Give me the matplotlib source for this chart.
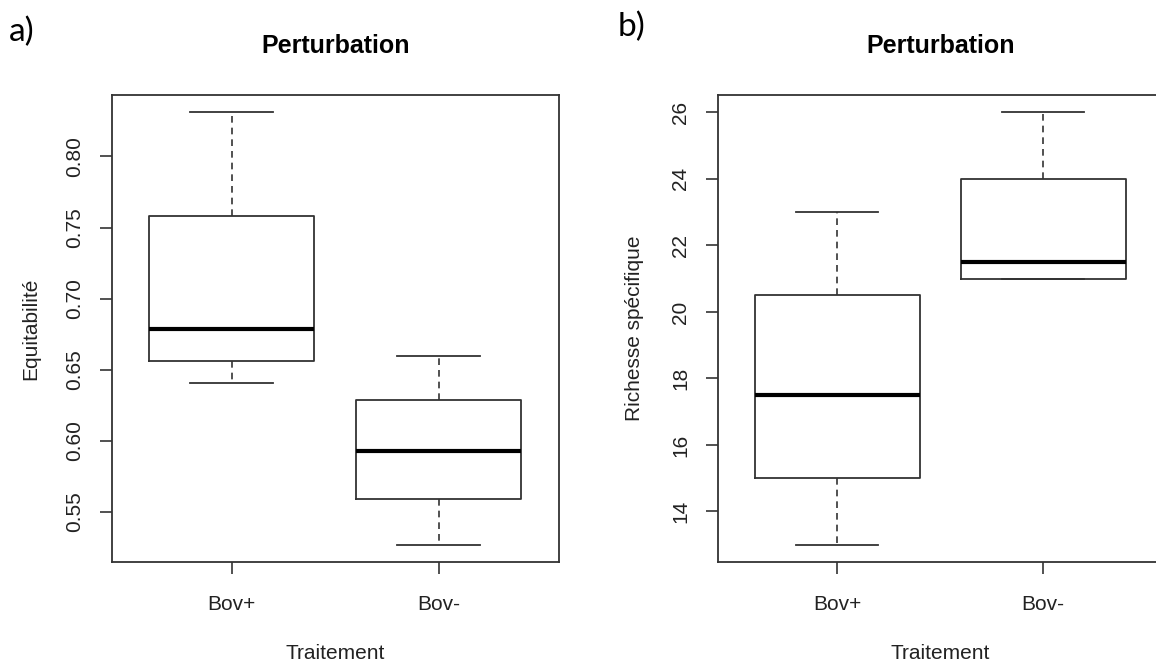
import matplotlib.pyplot as plt

# données (boxplots style R)
groupes = ['Bov+', 'Bov-']

# a) Equitabilité
eq_whislo = [0.641, 0.527]
eq_q1 = [0.656, 0.559]
eq_med = [0.679, 0.593]
eq_q3 = [0.758, 0.629]
eq_whishi = [0.831, 0.660]

# b) Richesse spécifique
ri_whislo = [13, 21]
ri_q1 = [15, 21]
ri_med = [17.5, 21.5]
ri_q3 = [20.5, 24]
ri_whishi = [23, 26]

plt.rcParams['font.family'] = ['Liberation Sans', 'DejaVu Sans']
trait = '#333333'


def stats(lo, q1, med, q3, hi):
    return [dict(whislo=lo[i], q1=q1[i], med=med[i], q3=q3[i], whishi=hi[i],
                 label=groupes[i], fliers=[]) for i in range(len(groupes))]


def boite(ax, st, ylab, yticks, ylabpad):
    ax.bxp(st, positions=[1, 2], widths=0.8, capwidths=0.4,
           boxprops=dict(color=trait, lw=1.3),
           whiskerprops=dict(color=trait, lw=1.2, linestyle=(0, (4, 3))),
           capprops=dict(color=trait, lw=1.3),
           medianprops=dict(color='black', lw=3, solid_capstyle='butt'))
    # étendue à la R : +4% de chaque côté
    lo = min(s['whislo'] for s in st)
    hi = max(s['whishi'] for s in st)
    ext = 0.04 * (hi - lo)
    ax.set_ylim(lo - ext, hi + ext)
    ax.set_xlim(0.42, 2.58)
    ax.set_yticks(yticks)
    for lab in ax.get_yticklabels():
        lab.set_rotation(90)
        lab.set_va('center')
    for sp in ax.spines.values():
        sp.set_color(trait)
        sp.set_linewidth(1.3)
    ax.tick_params(axis='both', length=8.6, width=1.2, color=trait,
                   labelsize=15, labelcolor='#222222')
    ax.tick_params(axis='y', pad=11)
    ax.tick_params(axis='x', pad=15)
    ax.set_title('Perturbation', fontsize=18, fontweight='bold', pad=30)
    ax.set_xlabel('Traitement', fontsize=15, labelpad=22, color='#222222')
    ax.set_ylabel(ylab, fontsize=15, labelpad=ylabpad, color='#222222')


fig = plt.figure(figsize=(11.56, 6.64), dpi=100)
ax1 = fig.add_axes([0.0966, 0.1536, 0.3867, 0.7033])
ax2 = fig.add_axes([0.6208, 0.1536, 0.385, 0.7033])

boite(ax1, stats(eq_whislo, eq_q1, eq_med, eq_q3, eq_whishi), 'Equitabilité',
      [0.55, 0.60, 0.65, 0.70, 0.75, 0.80], 18)
ax1.set_yticklabels(['0.55', '0.60', '0.65', '0.70', '0.75', '0.80'],
                    rotation=90, va='center')
boite(ax2, stats(ri_whislo, ri_q1, ri_med, ri_q3, ri_whishi), 'Richesse spécifique',
      [14, 16, 18, 20, 22, 24, 26], 20)
ax2.spines['right'].set_visible(False)

fig.text(0.008, 0.975, 'a)', fontsize=24, family=['Lato', 'DejaVu Sans'], va='top')
fig.text(0.534, 0.983, 'b)', fontsize=24, family=['Lato', 'DejaVu Sans'], va='top')

fig.savefig('out.png', dpi=100)
